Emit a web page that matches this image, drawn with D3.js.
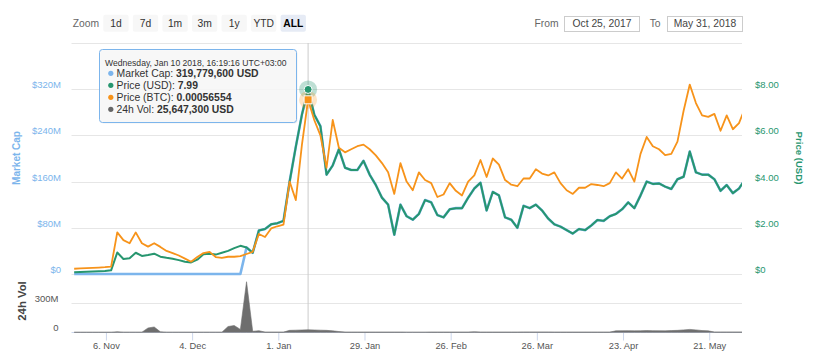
<!DOCTYPE html>
<html><head><meta charset="utf-8">
<script src="https://cdn.jsdelivr.net/npm/d3@7"></script>
<style>
html,body{margin:0;padding:0;background:#fff;}
svg{display:block;font-family:"Liberation Sans",Arial,Helvetica,sans-serif;}
</style></head><body>
<svg id="chart" width="816" height="356"></svg>
<script>
// ---------- data ----------
const startDate = "2017-10-26T16:19:16";   // first sample, then every 2 days
const stepDays = 2;
const priceUSD = [0.08,0.09,0.10,0.11,0.12,0.13,0.16,0.93,0.65,0.68,
  0.92,0.78,0.82,0.88,0.75,0.70,0.66,0.60,0.53,0.50,
  0.62,0.85,0.88,0.84,0.92,1.00,1.12,1.22,1.15,0.92,
  1.88,1.95,2.15,2.20,2.30,4.00,5.50,6.90,7.99,6.90,
  6.40,4.30,4.70,5.40,4.60,4.50,4.50,4.90,4.30,3.85,
  3.30,3.00,1.70,3.00,2.50,2.35,2.60,3.20,3.10,2.55,
  2.45,2.80,2.85,2.85,3.30,3.70,3.95,2.75,3.55,3.40,
  2.45,2.35,2.00,2.95,2.85,3.00,2.75,2.40,2.15,2.05,
  1.90,1.75,1.95,1.90,2.10,2.34,2.30,2.50,2.60,2.80,
  3.10,2.85,3.40,4.00,3.90,3.92,3.78,3.68,4.10,4.21,
  5.30,4.40,4.30,4.30,4.10,3.60,3.85,3.50,3.70,4.10];
const priceBTC = [0.000017,0.000018,0.000019,0.000020,0.000021,0.000022,0.000024,0.000135,0.000110,0.000100,
  0.000135,0.000100,0.000089,0.000100,0.000088,0.000075,0.000068,0.000060,0.000050,0.000040,
  0.000055,0.000068,0.000072,0.000055,0.000052,0.000056,0.000056,0.000058,0.000065,0.000072,
  0.000130,0.000120,0.000148,0.000155,0.000160,0.000300,0.000240,0.000420,0.00056554,0.000500,
  0.000450,0.000345,0.000500,0.000410,0.000395,0.000405,0.000415,0.000420,0.000405,0.000385,
  0.000360,0.000330,0.000260,0.000360,0.000300,0.000272,0.000330,0.000305,0.000295,0.000250,
  0.000258,0.000295,0.000270,0.000255,0.000300,0.000320,0.000370,0.000315,0.000375,0.000355,
  0.000305,0.000290,0.000285,0.000310,0.000310,0.000340,0.000326,0.000320,0.000330,0.000295,
  0.000272,0.000260,0.000280,0.000280,0.000292,0.000289,0.000285,0.000295,0.000330,0.000310,
  0.000340,0.000300,0.000390,0.000445,0.000415,0.000405,0.000386,0.000390,0.000430,0.000530,
  0.000615,0.000555,0.000515,0.000510,0.000520,0.000465,0.000515,0.000470,0.000490,0.000540];
const marketCapM = [0,0,0,0,0,0,0,0,0,0,
  0,0,0,0,0,0,0,0,0,0,
  0,0,0,0,0,0,0,0,46.0,36.8,
  75.2,78.0,86.0,88.0,92.0,160.1,220.1,276.1,319.7796,276.1,
  256.1,172.1,188.1,216.1,184.1,180.1,180.1,196.1,172.1,154.1,
  132.1,120.1,68.0,120.1,100.1,94.0,104.1,128.1,124.1,102.1,
  98.0,112.1,114.1,114.1,132.1,148.1,158.1,110.1,142.1,136.1,
  98.0,94.0,80.0,118.1,114.1,120.1,110.1,96.0,86.0,82.0,
  76.0,70.0,78.0,76.0,84.0,93.6,92.0,100.1,104.1,112.1,
  124.1,114.1,136.1,160.1,156.1,156.9,151.3,147.3,164.1,168.5,
  212.1,176.1,172.1,172.1,164.1,144.1,154.1,140.1,148.1,164.1];
const volumeM = [0.5,0.5,0.5,0.5,0.5,0.5,0.5,5,1,1,
  1,1,45,55,5,1,1,1,1,1,
  1,1,1,1,1,60,70,30,523,10,
  17,2,2,2,2,20,22,24,25.6473,24,
  22,20,15,8,2,2,2,2,2,2,
  2,2,2,2,1,1,1,1,2,2,
  2,2,2,2,2,5,2,2,2,2,
  2,2,2,3,3,3,3,3,2,2,
  2,2,2,2,2,2,2,2,15,16,
  17,15,16,18,17,16,15,18,20,25,
  30,25,18,15,3,3,3,3,3,3];
const mcapTicks = [0,80,160,240,320];
const priceTicks = [0,2,4,6,8];
const gridPrices = [0,2,4,6,8,10];
const volTicks = [0,300];
const xTickDates = ["2017-11-06","2017-12-04","2018-01-01","2018-01-29","2018-02-26","2018-03-26","2018-04-23","2018-05-21"];
const xDomain = ["2017-10-25","2018-05-31"];
const rangeButtons = ["1d","7d","1m","3m","1y","YTD","ALL"];
const selectedButton = "ALL";
const fromLabel = "Oct 25, 2017";
const toLabel = "May 31, 2018";
const hoverIndex = 38;

// ---------- colours ----------
const cMcap = "#7cb5ec", cUSD = "#27966f", cBTC = "#f7931a", cVol = "#6e6e6e";

// ---------- build ----------
const parseT = d3.utcParse("%Y-%m-%dT%H:%M:%S");
const parseD = d3.utcParse("%Y-%m-%d");
const t0 = parseT(startDate);
const rows = priceUSD.map((p, i) => ({
  date: d3.utcDay.offset(t0, i * stepDays),
  usd: p, btc: priceBTC[i], mcap: marketCapM[i], vol: volumeM[i]
}));

const svg = d3.select("#chart");
const X0 = 71.5, X1 = 742;
const x = d3.scaleUtc().domain(xDomain.map(parseD)).range([69, 740]);
const yPrice = d3.scaleLinear().domain([0, 10]).range([274, 43]);
const yMcap = d3.scaleLinear().domain([0, 400]).range([274, 43]);
const yBtc = d3.scaleLinear().domain([0, 0.00075]).range([274, 43]);
const yVol = d3.scaleLinear().domain([0, 600]).range([332.3, 274.3]);

svg.append("defs").append("clipPath").attr("id", "clip")
  .append("rect").attr("x", 71).attr("y", 30).attr("width", 671).attr("height", 305);

// gridlines
svg.append("g").selectAll("line").data(gridPrices).join("line")
  .attr("x1", X0).attr("x2", X1)
  .attr("y1", d => Math.round(yPrice(d)) + 0.5).attr("y2", d => Math.round(yPrice(d)) + 0.5)
  .attr("stroke", "#e6e6e6").attr("stroke-width", 1);
svg.append("line").attr("x1", X0).attr("x2", X1)
  .attr("y1", Math.round(yVol(300)) + 0.5).attr("y2", Math.round(yVol(300)) + 0.5)
  .attr("stroke", "#e6e6e6");

// left market cap axis
const gL = svg.append("g").attr("transform", "translate(61,0)")
  .call(d3.axisLeft(yMcap).tickValues(mcapTicks).tickSize(0).tickPadding(0)
    .tickFormat(d => d === 0 ? "$0" : "$" + d + "M"));
gL.select(".domain").remove();
gL.selectAll("text").attr("dy", "-1.6").attr("fill", cMcap)
  .style("font-size", "9.5px").style("font-family", "Liberation Sans, Arial");

// right price axis
const gR = svg.append("g").attr("transform", "translate(755,0)")
  .call(d3.axisRight(yPrice).tickValues(priceTicks).tickSize(0).tickPadding(0)
    .tickFormat(d => d === 0 ? "$0" : "$" + d.toFixed(2)));
gR.select(".domain").remove();
gR.selectAll("text").attr("dy", "-1.6").attr("fill", cUSD)
  .style("font-size", "9.5px").style("font-family", "Liberation Sans, Arial");

// volume axis
const gV = svg.append("g").attr("transform", "translate(58.5,0)")
  .call(d3.axisLeft(yVol).tickValues(volTicks).tickSize(0).tickPadding(0)
    .tickFormat(d => d === 0 ? "0" : d + "M"));
gV.select(".domain").remove();
gV.selectAll("text").attr("dy", "-1.6").attr("fill", "#555")
  .style("font-size", "9.5px").style("font-family", "Liberation Sans, Arial");

// x axis
const gX = svg.append("g").attr("transform", "translate(0,332.5)")
  .call(d3.axisBottom(x).tickValues(xTickDates.map(parseD)).tickSize(8).tickPadding(1.5)
    .tickFormat(d3.utcFormat("%-d. %b")));
gX.select(".domain").remove();
gX.selectAll(".tick line").attr("stroke", "#ccd6eb");
gX.selectAll("text").attr("fill", "#555").style("font-size", "9.3px")
  .style("font-family", "Liberation Sans, Arial");
svg.append("line").attr("x1", X0).attr("x2", X1).attr("y1", 332.5).attr("y2", 332.5)
  .attr("stroke", "#ccd6eb");

// axis titles
svg.append("text").attr("transform", "translate(19.5,158) rotate(-90)")
  .attr("text-anchor", "middle").attr("fill", cMcap).attr("font-weight", "bold")
  .style("font-size", "10px").text("Market Cap");
svg.append("text").attr("transform", "translate(795.5,158) rotate(90)")
  .attr("text-anchor", "middle").attr("fill", cUSD).attr("font-weight", "bold")
  .style("font-size", "9.6px").text("Price (USD)");
svg.append("text").attr("transform", "translate(25.5,301) rotate(-90)")
  .attr("text-anchor", "middle").attr("fill", "#444").attr("font-weight", "bold")
  .style("font-size", "11.3px").text("24h Vol");

// crosshair
const hv = rows[hoverIndex];
const hx = x(hv.date);
svg.append("line").attr("x1", hx).attr("x2", hx).attr("y1", 43).attr("y2", 332.5)
  .attr("stroke", "#cccccc").attr("stroke-width", 1);

// series
const plot = svg.append("g").attr("clip-path", "url(#clip)");
plot.append("path").datum(rows)
  .attr("d", d3.area().x(d => x(d.date)).y0(yVol(0)).y1(d => yVol(d.vol)))
  .attr("fill", cVol).attr("stroke", cVol).attr("stroke-width", 0.6);
plot.append("path").datum(rows)
  .attr("d", d3.line().x(d => x(d.date)).y(d => yMcap(d.mcap)))
  .attr("fill", "none").attr("stroke", cMcap).attr("stroke-width", 2.6).attr("stroke-linejoin", "round");
plot.append("path").datum(rows)
  .attr("d", d3.line().x(d => x(d.date)).y(d => yPrice(d.usd)))
  .attr("fill", "none").attr("stroke", cUSD).attr("stroke-width", 2).attr("stroke-linejoin", "round");
plot.append("path").datum(rows)
  .attr("d", d3.line().x(d => x(d.date)).y(d => yBtc(d.btc)))
  .attr("fill", "none").attr("stroke", cBTC).attr("stroke-width", 1.8).attr("stroke-linejoin", "round");

// hover markers
svg.append("circle").attr("cx", hx).attr("cy", yPrice(hv.usd)).attr("r", 9)
  .attr("fill", cUSD).attr("fill-opacity", 0.3);
svg.append("circle").attr("cx", hx).attr("cy", yBtc(hv.btc)).attr("r", 9)
  .attr("fill", cBTC).attr("fill-opacity", 0.25);
svg.append("rect").attr("x", hx - 4).attr("y", yBtc(hv.btc) - 4).attr("width", 8).attr("height", 8)
  .attr("fill", cBTC).attr("stroke", "#fff").attr("stroke-width", 1);
svg.append("circle").attr("cx", hx).attr("cy", yPrice(hv.usd)).attr("r", 4)
  .attr("fill", cUSD).attr("stroke", "#fff").attr("stroke-width", 1);

// tooltip
const tip = svg.append("g");
tip.append("rect").attr("x", 100.5).attr("y", 50.5).attr("width", 197).attr("height", 73)
  .attr("rx", 3).attr("fill", "#000").attr("fill-opacity", 0.06);
tip.append("rect").attr("x", 99.5).attr("y", 49.5).attr("width", 197).attr("height", 73)
  .attr("rx", 3).attr("fill", "#f7f7f7").attr("fill-opacity", 0.88)
  .attr("stroke", cMcap).attr("stroke-width", 1);
const headerFmt = d3.utcFormat("%A, %b %d %Y, %H:%M:%S");
tip.append("text").attr("x", 105).attr("y", 65.5).attr("fill", "#333")
  .style("font-size", "8.6px").text(headerFmt(hv.date) + " UTC+03:00");
const fmtInt = d3.format(",");
const tipRows = [
  {c: cMcap, label: "Market Cap: ", val: fmtInt(Math.round(hv.mcap * 1e6)) + " USD"},
  {c: cUSD, label: "Price (USD): ", val: String(hv.usd)},
  {c: cBTC, label: "Price (BTC): ", val: String(hv.btc)},
  {c: "#666", label: "24h Vol: ", val: fmtInt(Math.round(hv.vol * 1e6)) + " USD"}
];
tipRows.forEach((r, i) => {
  const cy = 73.3 + i * 12;
  tip.append("circle").attr("cx", 110.8).attr("cy", cy).attr("r", 2.6).attr("fill", r.c);
  const t = tip.append("text").attr("x", 116.5).attr("y", cy + 3.6).attr("fill", "#333")
    .style("font-size", "10.4px");
  t.append("tspan").text(r.label);
  t.append("tspan").attr("font-weight", "bold").text(r.val);
});

// range selector
svg.append("text").attr("x", 72.7).attr("y", 27).attr("fill", "#666")
  .style("font-size", "10.3px").text("Zoom");
const btn = svg.append("g").selectAll("g").data(rangeButtons).join("g")
  .attr("transform", (d, i) => `translate(${103.3 + i * 29.55},14.7)`);
btn.append("rect").attr("width", 25.3).attr("height", 17).attr("rx", 2)
  .attr("fill", d => d === selectedButton ? "#e6ebf5" : "#f7f7f7");
btn.append("text").attr("x", 12.65).attr("y", 12.3).attr("text-anchor", "middle")
  .attr("fill", d => d === selectedButton ? "#000" : "#333")
  .attr("font-weight", d => d === selectedButton ? "bold" : "normal")
  .style("font-size", "10.3px").text(d => d);

// date inputs
svg.append("text").attr("x", 558.5).attr("y", 27).attr("text-anchor", "end").attr("fill", "#666")
  .style("font-size", "10.3px").text("From");
svg.append("text").attr("x", 660.5).attr("y", 27).attr("text-anchor", "end").attr("fill", "#666")
  .style("font-size", "10.3px").text("To");
[[564.5, fromLabel], [667.5, toLabel]].forEach(([bx, lab]) => {
  svg.append("rect").attr("x", bx).attr("y", 16.5).attr("width", 75).attr("height", 15)
    .attr("fill", "#fff").attr("stroke", "#cccccc");
  svg.append("text").attr("x", bx + 37.5).attr("y", 27.3).attr("text-anchor", "middle")
    .attr("fill", "#444").style("font-size", "10.3px").text(lab);
});
</script>
</body></html>
